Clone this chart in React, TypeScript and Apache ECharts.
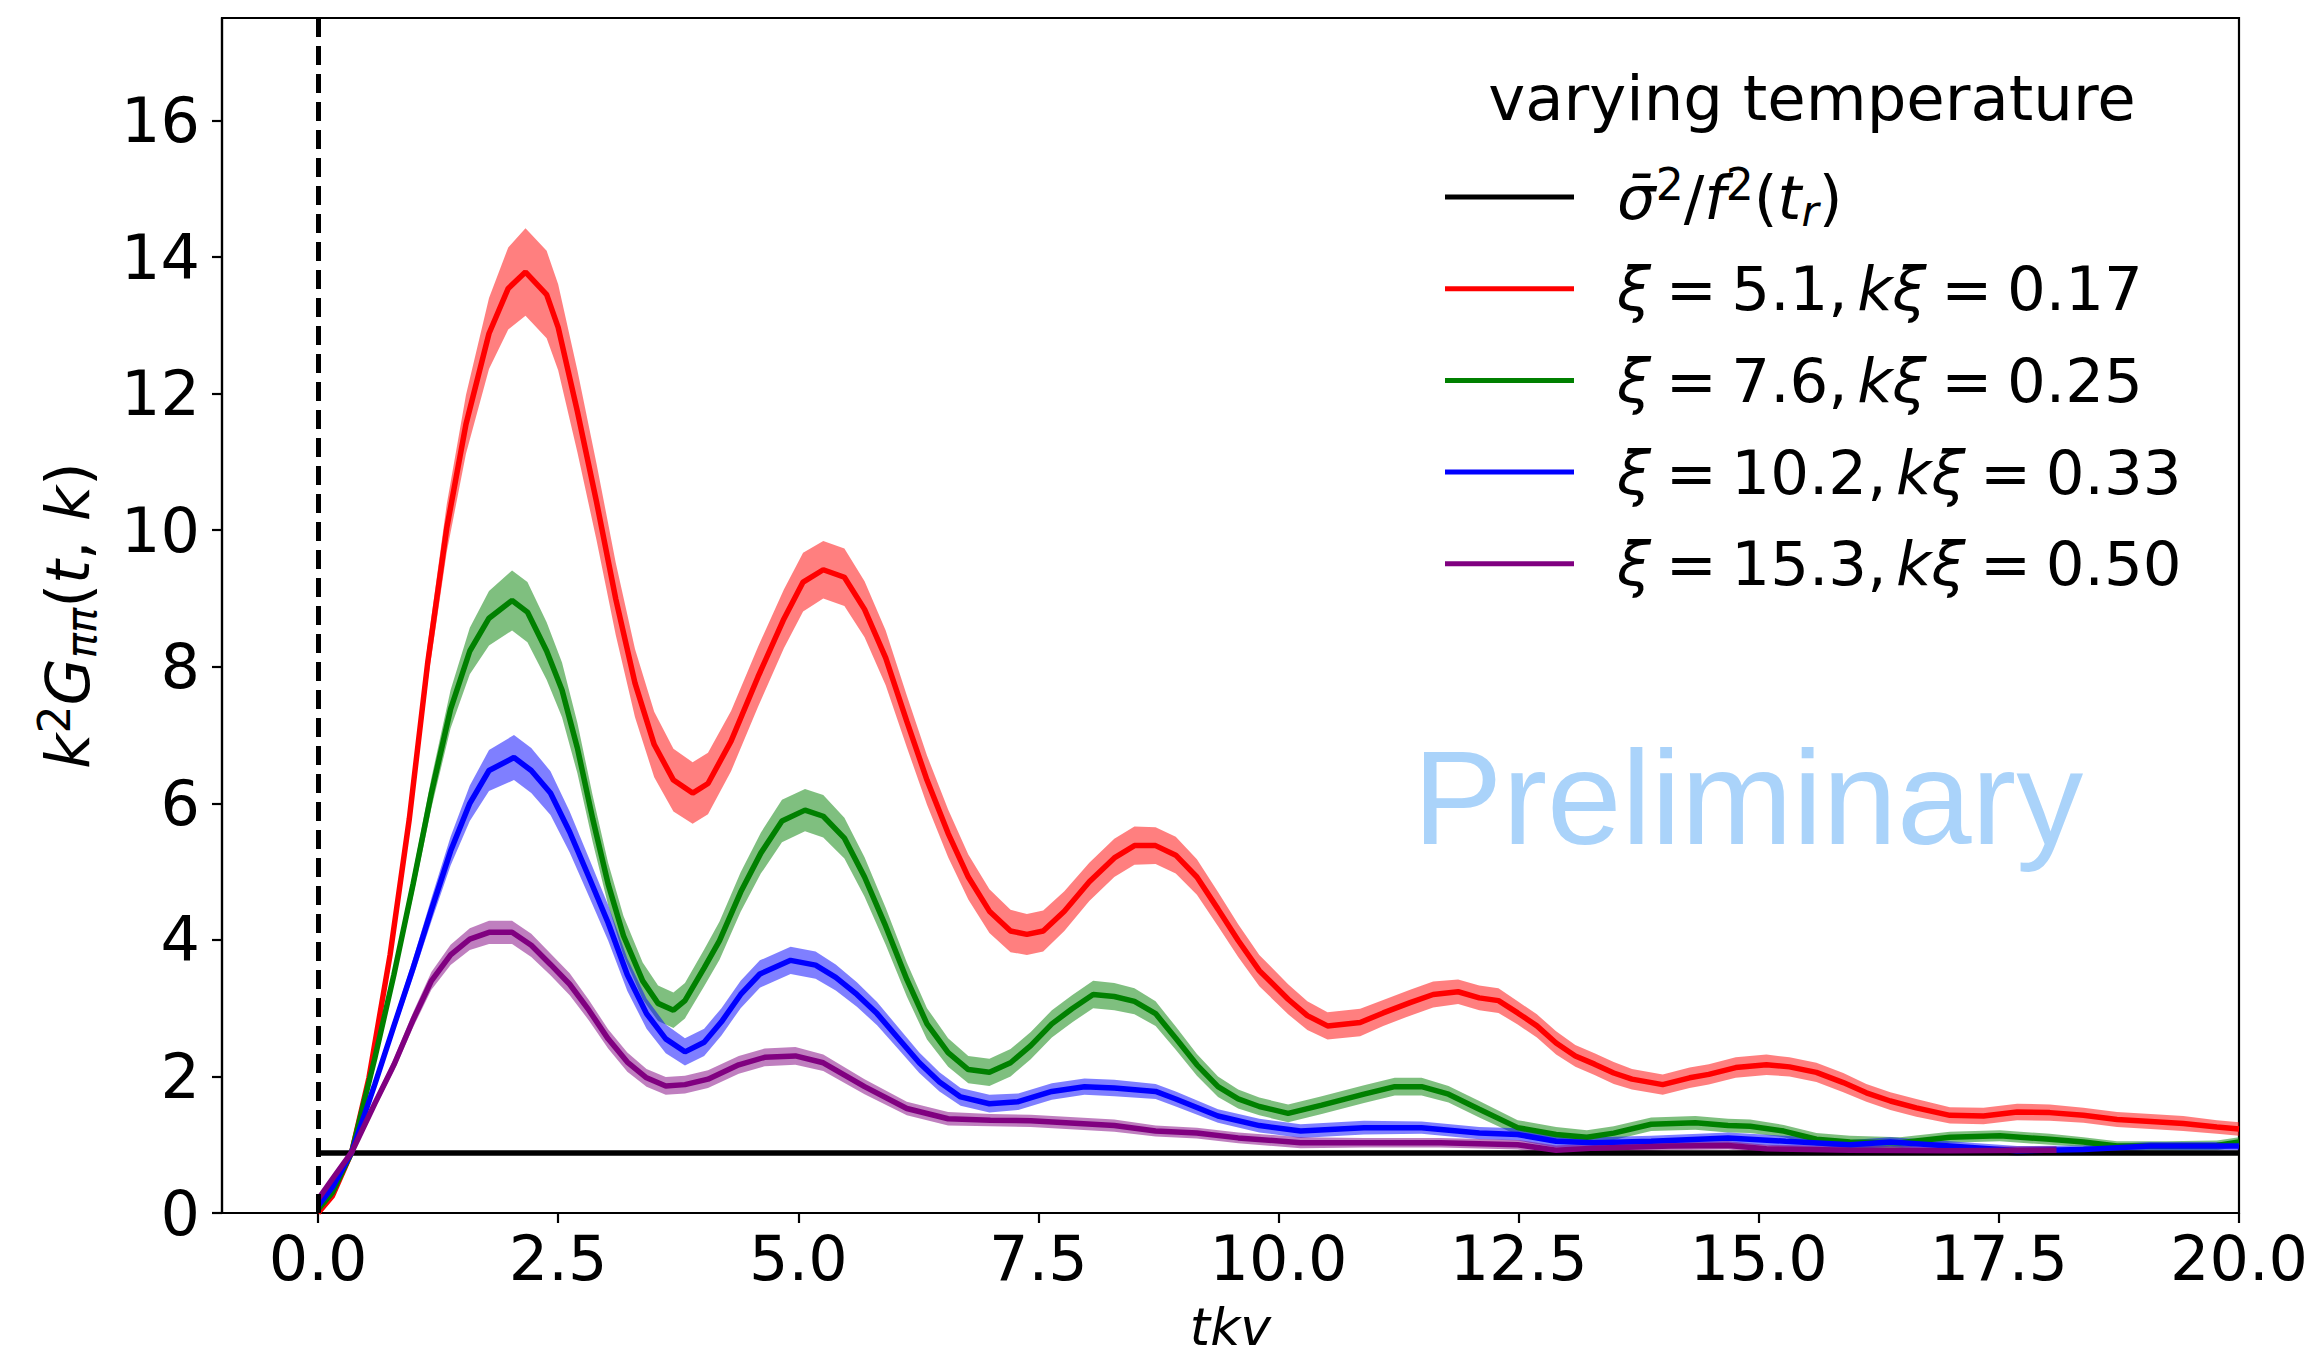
import React, { useEffect, useRef } from 'react';
import * as echarts from 'echarts';

type P = [number, number, number]; // [tkv, mean, half-width of band]

const redData: P[] = [
  [0, 0, 0.02], [0.15, 0.25, 0.03], [0.35, 0.89, 0.05], [0.53, 1.98, 0.08], [0.75, 3.78, 0.14],
  [0.95, 5.77, 0.2], [1.14, 8.04, 0.27], [1.34, 10.03, 0.35], [1.54, 11.55, 0.43], [1.78, 12.88, 0.52],
  [1.98, 13.54, 0.6], [2.16, 13.78, 0.64], [2.38, 13.45, 0.64], [2.5, 12.97, 0.63], [2.7, 11.74, 0.6],
  [2.9, 10.41, 0.56], [3.1, 8.99, 0.53], [3.3, 7.76, 0.5], [3.5, 6.86, 0.48], [3.7, 6.34, 0.46],
  [3.9, 6.15, 0.45], [4.06, 6.29, 0.45], [4.3, 6.91, 0.44], [4.58, 7.85, 0.44], [4.85, 8.7, 0.43],
  [5.05, 9.24, 0.43], [5.26, 9.42, 0.42], [5.48, 9.31, 0.42], [5.69, 8.84, 0.41], [5.91, 8.13, 0.4],
  [6.13, 7.2, 0.38], [6.34, 6.34, 0.36], [6.56, 5.56, 0.35], [6.77, 4.92, 0.33], [6.99, 4.42, 0.32],
  [7.21, 4.13, 0.31], [7.38, 4.08, 0.3], [7.55, 4.13, 0.3], [7.77, 4.42, 0.29], [8.03, 4.85, 0.28],
  [8.29, 5.2, 0.28], [8.5, 5.38, 0.28], [8.72, 5.38, 0.27], [8.93, 5.24, 0.27], [9.15, 4.92, 0.26],
  [9.37, 4.45, 0.25], [9.58, 3.99, 0.24], [9.8, 3.55, 0.23], [10.1, 3.13, 0.22], [10.3, 2.89, 0.21],
  [10.51, 2.74, 0.2], [10.85, 2.79, 0.2], [11.09, 2.93, 0.19], [11.37, 3.08, 0.19], [11.61, 3.2, 0.19],
  [11.87, 3.24, 0.18], [12.09, 3.15, 0.18], [12.29, 3.11, 0.18], [12.49, 2.93, 0.17], [12.69, 2.74, 0.17],
  [12.89, 2.49, 0.17], [13.09, 2.3, 0.16], [13.29, 2.18, 0.16], [13.49, 2.05, 0.16], [13.68, 1.96, 0.15],
  [14.0, 1.88, 0.15], [14.28, 1.98, 0.15], [14.48, 2.03, 0.15], [14.76, 2.13, 0.15], [15.08, 2.17, 0.15],
  [15.32, 2.14, 0.14], [15.6, 2.06, 0.14], [15.88, 1.91, 0.14], [16.12, 1.76, 0.13], [16.37, 1.64, 0.13],
  [16.64, 1.54, 0.13], [16.99, 1.43, 0.12], [17.34, 1.42, 0.12], [17.69, 1.48, 0.12], [18.03, 1.47, 0.12],
  [18.38, 1.43, 0.11], [18.73, 1.37, 0.11], [19.08, 1.34, 0.11], [19.42, 1.31, 0.11], [19.77, 1.26, 0.1],
  [20.0, 1.23, 0.1],
];

const greenData: P[] = [
  [0, 0.05, 0.02], [0.15, 0.3, 0.03], [0.35, 0.89, 0.05], [0.59, 2.26, 0.08], [0.79, 3.49, 0.12],
  [0.99, 4.82, 0.17], [1.18, 6.15, 0.22], [1.38, 7.38, 0.28], [1.58, 8.23, 0.34], [1.78, 8.71, 0.4],
  [2.02, 8.97, 0.44], [2.18, 8.8, 0.44], [2.38, 8.23, 0.42], [2.54, 7.66, 0.4], [2.7, 6.81, 0.37],
  [2.86, 5.77, 0.34], [3.02, 4.82, 0.31], [3.18, 4.06, 0.29], [3.38, 3.4, 0.27], [3.54, 3.07, 0.26],
  [3.7, 2.97, 0.26], [3.82, 3.11, 0.26], [4.02, 3.59, 0.27], [4.18, 3.99, 0.28], [4.4, 4.7, 0.29],
  [4.61, 5.27, 0.3], [4.83, 5.74, 0.31], [5.07, 5.9, 0.31], [5.26, 5.81, 0.31], [5.48, 5.49, 0.3],
  [5.69, 4.92, 0.29], [5.91, 4.2, 0.27], [6.13, 3.42, 0.25], [6.34, 2.77, 0.23], [6.56, 2.35, 0.21],
  [6.77, 2.1, 0.2], [6.99, 2.06, 0.2], [7.21, 2.2, 0.2], [7.42, 2.45, 0.2], [7.64, 2.77, 0.2],
  [7.85, 2.99, 0.2], [8.07, 3.2, 0.2], [8.29, 3.17, 0.2], [8.5, 3.1, 0.19], [8.72, 2.92, 0.18],
  [8.93, 2.56, 0.17], [9.15, 2.17, 0.16], [9.37, 1.85, 0.15], [9.58, 1.67, 0.14], [9.8, 1.56, 0.13],
  [10.1, 1.46, 0.13], [10.45, 1.58, 0.13], [10.89, 1.74, 0.13], [11.21, 1.85, 0.13], [11.49, 1.85, 0.13],
  [11.77, 1.74, 0.12], [12.09, 1.52, 0.12], [12.49, 1.25, 0.11], [12.89, 1.15, 0.11], [13.21, 1.11, 0.1],
  [13.49, 1.17, 0.1], [13.88, 1.3, 0.1], [14.34, 1.32, 0.1], [14.68, 1.28, 0.1], [14.91, 1.27, 0.1],
  [15.26, 1.2, 0.09], [15.6, 1.08, 0.09], [15.95, 1.04, 0.09], [16.47, 1.03, 0.08], [16.99, 1.11, 0.08],
  [17.51, 1.13, 0.08], [18.03, 1.08, 0.08], [18.38, 1.04, 0.07], [18.73, 0.98, 0.07], [19.25, 0.98, 0.07],
  [19.77, 0.99, 0.07], [20.0, 1.04, 0.07],
];

const blueData: P[] = [
  [0, 0.1, 0.02], [0.15, 0.38, 0.03], [0.35, 0.89, 0.05], [0.59, 1.88, 0.07], [0.79, 2.74, 0.1],
  [0.99, 3.59, 0.13], [1.18, 4.44, 0.17], [1.38, 5.3, 0.21], [1.58, 6.0, 0.26], [1.78, 6.48, 0.3],
  [2.04, 6.67, 0.33], [2.22, 6.48, 0.33], [2.42, 6.15, 0.32], [2.62, 5.58, 0.3], [2.82, 4.92, 0.28],
  [3.02, 4.25, 0.26], [3.22, 3.49, 0.24], [3.42, 2.92, 0.22], [3.62, 2.55, 0.21], [3.82, 2.36, 0.2],
  [4.02, 2.5, 0.2], [4.2, 2.8, 0.2], [4.4, 3.2, 0.2], [4.6, 3.5, 0.2], [4.92, 3.7, 0.2],
  [5.18, 3.63, 0.2], [5.39, 3.45, 0.19], [5.61, 3.2, 0.18], [5.82, 2.92, 0.17], [6.04, 2.56, 0.16],
  [6.26, 2.2, 0.15], [6.47, 1.92, 0.14], [6.69, 1.7, 0.13], [6.99, 1.6, 0.13], [7.29, 1.63, 0.12],
  [7.64, 1.78, 0.12], [7.98, 1.85, 0.12], [8.29, 1.83, 0.12], [8.72, 1.78, 0.11], [8.93, 1.67, 0.11],
  [9.37, 1.42, 0.1], [9.8, 1.28, 0.1], [10.23, 1.2, 0.1], [10.89, 1.25, 0.1], [11.49, 1.25, 0.09],
  [12.09, 1.17, 0.09], [12.49, 1.15, 0.09], [12.89, 1.05, 0.09], [13.29, 1.03, 0.08], [13.88, 1.05, 0.08],
  [14.68, 1.1, 0.08], [15.28, 1.05, 0.08], [15.95, 1.0, 0.07], [16.37, 1.04, 0.07], [16.99, 0.98, 0.07],
  [17.69, 0.91, 0.07], [18.38, 0.93, 0.06], [19.08, 0.98, 0.06], [20.0, 0.98, 0.06],
];

const purpleData: P[] = [
  [0, 0.2, 0.03], [0.15, 0.5, 0.04], [0.35, 0.89, 0.05], [0.59, 1.6, 0.07], [0.79, 2.17, 0.09],
  [0.99, 2.83, 0.11], [1.18, 3.4, 0.13], [1.38, 3.78, 0.15], [1.58, 4.01, 0.16], [1.78, 4.11, 0.17],
  [2.02, 4.11, 0.17], [2.22, 3.92, 0.17], [2.42, 3.64, 0.16], [2.62, 3.35, 0.16], [2.82, 2.97, 0.15],
  [3.02, 2.55, 0.14], [3.22, 2.21, 0.14], [3.42, 1.98, 0.13], [3.62, 1.86, 0.13], [3.82, 1.88, 0.13],
  [4.06, 1.96, 0.13], [4.38, 2.17, 0.13], [4.65, 2.28, 0.13], [4.97, 2.3, 0.13], [5.26, 2.2, 0.12],
  [5.69, 1.85, 0.11], [6.13, 1.53, 0.1], [6.56, 1.38, 0.1], [7.0, 1.36, 0.09], [7.42, 1.35, 0.09],
  [8.29, 1.28, 0.09], [8.72, 1.2, 0.08], [9.15, 1.17, 0.08], [9.58, 1.1, 0.08], [10.23, 1.03, 0.08],
  [10.89, 1.03, 0.07], [11.69, 1.03, 0.07], [12.49, 1.0, 0.07], [12.89, 0.92, 0.07], [13.29, 0.95, 0.07],
  [14.08, 0.98, 0.06], [14.68, 0.99, 0.06], [15.08, 0.94, 0.06], [15.95, 0.92, 0.06], [16.99, 0.91, 0.06],
  [18.1, 0.92, 0.06],
];

const refLevel = 0.88;
const refRange = [0, 20];
const xTicks = [0, 2.5, 5, 7.5, 10, 12.5, 15, 17.5, 20];
const yTicks = [0, 2, 4, 6, 8, 10, 12, 14, 16];
const xRange = [-1, 20];
const yRange = [0, 17.5];

const legendTitle = 'varying temperature';
const names = ['ref', 'xi51', 'xi76', 'xi102', 'xi153'];
const legendRich: Record<string, string> = {
  ref: '{i|σ̄}{sup|2}{n|/}{i|f}{sup|2}{n|(}{i|t}{isub|r}{n|)}',
  xi51: '{i|ξ}{s| }{n|=}{s| }{n|5.1,}{c| }{i|kξ}{s| }{n|=}{s| }{n|0.17}',
  xi76: '{i|ξ}{s| }{n|=}{s| }{n|7.6,}{c| }{i|kξ}{s| }{n|=}{s| }{n|0.25}',
  xi102: '{i|ξ}{s| }{n|=}{s| }{n|10.2,}{c| }{i|kξ}{s| }{n|=}{s| }{n|0.33}',
  xi153: '{i|ξ}{s| }{n|=}{s| }{n|15.3,}{c| }{i|kξ}{s| }{n|=}{s| }{n|0.50}',
};

const F = 'DejaVu Sans';

function bandSeries(name: string, data: P[], color: string) {
  return {
    type: 'custom',
    name,
    silent: true,
    clip: true,
    coordinateSystem: 'cartesian2d',
    data: [[data[0][0], data[0][1]]],
    renderItem: (params: any, api: any) => {
      const upper = data.map((d) => api.coord([d[0], d[1] + d[2]]));
      const lower = data.map((d) => api.coord([d[0], d[1] - d[2]])).reverse();
      return {
        type: 'polygon',
        shape: { points: upper.concat(lower) },
        style: { fill: color, opacity: 0.5 },
      };
    },
  };
}

function lineSeries(name: string, data: P[], color: string) {
  return {
    type: 'line',
    name,
    data: data.map((d) => [d[0], d[1]]),
    showSymbol: false,
    symbol: 'none',
    color,
    lineStyle: { color, width: 5.5 },
    itemStyle: { color },
  };
}

export default function App() {
  const ref = useRef<HTMLDivElement>(null);
  useEffect(() => {
    const chart = echarts.init(ref.current!, null, { renderer: 'svg' });
    const rich = {
      i: { fontFamily: F, fontStyle: 'italic', fontSize: 61, lineHeight: 70, color: '#000' },
      n: { fontFamily: F, fontSize: 61, lineHeight: 70, color: '#000' },
      s: { fontFamily: F, fontSize: 46, lineHeight: 70, color: '#000' },
      c: { fontFamily: F, fontSize: 30, lineHeight: 70, color: '#000' },
      sup: { fontFamily: F, fontSize: 44, lineHeight: 44, verticalAlign: 'top', color: '#000' },
      isub: { fontFamily: F, fontStyle: 'italic', fontSize: 42, lineHeight: 42, verticalAlign: 'bottom', color: '#000' },
    };
    const option: any = {
      animation: false,
      backgroundColor: '#fff',
      grid: {
        left: 222, top: 18, width: 2017, height: 1195,
        containLabel: false, outerBoundsMode: 'none',
        show: true, borderColor: '#000', borderWidth: 2.2, backgroundColor: 'transparent',
      },
      xAxis: {
        type: 'value', min: xRange[0], max: xRange[1],
        name: 'tkv', nameLocation: 'middle', nameGap: 84.5, nameMoveOverlap: false,
        nameTextStyle: { fontFamily: F, fontStyle: 'italic', fontSize: 52, lineHeight: 58, color: '#000' },
        axisLine: { show: true, onZero: false, lineStyle: { color: '#000', width: 2.2 } },
        axisTick: { show: true, inside: false, length: 10, lineStyle: { color: '#000', width: 2.2 }, customValues: xTicks },
        axisLabel: {
          show: true, margin: 14, fontFamily: F, fontSize: 62, color: '#000', customValues: xTicks,
          formatter: (v: number) => v.toFixed(1),
        },
        splitLine: { show: false },
      },
      yAxis: {
        type: 'value', min: yRange[0], max: yRange[1],
        name: '{i|k}{sup|2}{i|G}{isub|ππ}{n|(}{i|t}{n|, }{i|k}{n|)}',
        nameLocation: 'middle', nameGap: 120, nameMoveOverlap: false,
        nameTextStyle: { fontFamily: F, fontSize: 61, lineHeight: 70, color: '#000', rich },
        axisLine: { show: true, onZero: false, lineStyle: { color: '#000', width: 2.2 } },
        axisTick: { show: true, inside: false, length: 10, lineStyle: { color: '#000', width: 2.2 }, customValues: yTicks },
        axisLabel: {
          show: true, margin: 22, fontFamily: F, fontSize: 62, color: '#000', customValues: yTicks,
          formatter: (v: number) => String(v),
        },
        splitLine: { show: false },
      },
      legend: {
        orient: 'vertical', left: 1440, top: 157,
        itemWidth: 129, itemHeight: 5, itemGap: 21.7,
        icon: 'rect', selectedMode: false,
        data: names,
        formatter: (name: string) => legendRich[name],
        itemStyle: { borderWidth: 0 },
        textStyle: { fontFamily: F, fontSize: 61, lineHeight: 70, color: '#000', padding: [0, 0, 0, 38], rich },
      },
      graphic: [
        {
          type: 'text', x: 1812, y: 98, silent: true,
          style: { text: legendTitle, fontFamily: F, fontSize: 62.5, fill: '#000', align: 'center', verticalAlign: 'middle' },
        },
        {
          type: 'text', x: 1413, y: 797, silent: true,
          style: { text: 'Preliminary', fontFamily: 'Liberation Sans', fontSize: 134, fill: '#aad3fa', align: 'left', verticalAlign: 'middle' },
        },
      ],
      series: [
        {
          type: 'line', name: 'ref', data: [[refRange[0], refLevel], [refRange[1], refLevel]],
          showSymbol: false, symbol: 'none', color: '#000',
          lineStyle: { color: '#000', width: 5.5 }, itemStyle: { color: '#000' },
          markLine: {
            silent: true, symbol: ['none', 'none'], animation: false,
            label: { show: false },
            lineStyle: { color: '#000', width: 5, type: [19, 9] },
            emphasis: { disabled: true },
            data: [{ xAxis: 0 }],
          },
        },
        bandSeries('xi51band', redData, '#ff0000'),
        lineSeries('xi51', redData, '#ff0000'),
        bandSeries('xi76band', greenData, '#008000'),
        lineSeries('xi76', greenData, '#008000'),
        bandSeries('xi102band', blueData, '#0000ff'),
        lineSeries('xi102', blueData, '#0000ff'),
        bandSeries('xi153band', purpleData, '#800080'),
        lineSeries('xi153', purpleData, '#800080'),
      ],
    };
    chart.setOption(option);
    return () => chart.dispose();
  }, []);
  return <div ref={ref} style={{ position: 'absolute', left: 0, top: 0, width: 2320, height: 1358 }} />;
}
